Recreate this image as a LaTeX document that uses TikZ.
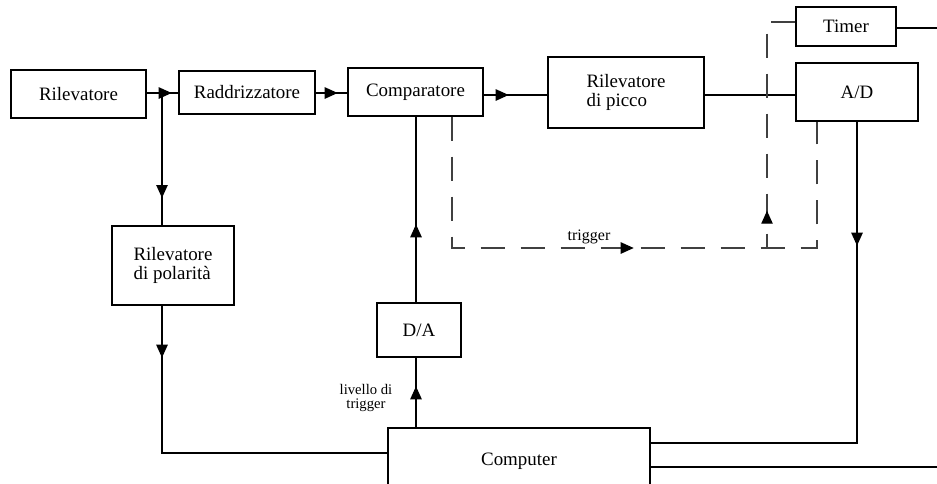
\documentclass[tikz,border=0pt]{standalone}
\usepackage{fontspec}
\setmainfont{Liberation Serif}
\usetikzlibrary{arrows.meta,decorations.markings}
\newcommand{\mainfs}{\fontsize{14.2}{14}\selectfont}
\newcommand{\smallfs}{\fontsize{11}{10}\selectfont}
\newcommand{\trigfs}{\fontsize{12}{12}\selectfont}
\begin{document}
\begin{tikzpicture}[x=0.75pt,y=-0.75pt,
  box/.style={draw, line width=1.1pt, inner sep=0pt, font=\mainfs, align=center},
  wire/.style={line width=1.1pt},
  dwire/.style={line width=1.1pt, black!75, dash pattern=on 18pt off 12pt},
  arr/.style={postaction={decorate}, decoration={markings, mark=at position #1 with {\arrow[black,solid]{Triangle[length=9.75pt,width=8.5pt]}}}},
  arrrev/.style={postaction={decorate}, decoration={markings, mark=at position #1 with {\arrowreversed[black,solid]{Triangle[length=9.75pt,width=8.5pt]}}}}
]
\useasboundingbox (0,0) rectangle (937,483);
\clip (0,0) rectangle (937,483);

\node[box, minimum width=101.25pt, minimum height=36pt] (ril) at (78.5,94) {Rilevatore};
\node[box, minimum width=102pt, minimum height=32.25pt] (rad) at (247,92.5) {Raddrizzatore};
\node[box, minimum width=101.25pt, minimum height=36pt] (cmp) at (415.5,92) {Comparatore};
\node[box, minimum width=117pt, minimum height=53.25pt, align=left] (picco) at (626,92.5) {Rilevatore\\di picco};
\node[box, minimum width=91.5pt, minimum height=43.5pt] (ad) at (857,92) {A/D};
\node[box, minimum width=75pt, minimum height=29.25pt] (timer) at (846,26.5) {Timer};
\node[box, minimum width=91.5pt, minimum height=59.25pt, align=left] (pol) at (173,265.5) {Rilevatore\\di polarità};
\node[box, minimum width=63pt, minimum height=40.5pt] (da) at (419,330) {D/A};
\node[box, minimum width=196.5pt, minimum height=49.5pt] (pc) at (519,461) {Computer};

\node[font=\trigfs] (trg) at (589,237) {trigger};
\node[font=\smallfs, align=center] (liv) at (366,398) {livello di\\trigger};

\coordinate (j1) at (162,93);
\coordinate (j2) at (162,453);
\coordinate (j3) at (857,443);
\coordinate (y95) at (0,95);
\coordinate (xda) at (416,0);
\coordinate (xtr) at (452,248);
\coordinate (xtr2) at (817,248);
\coordinate (xtb) at (767,248);
\coordinate (xtt) at (767,22);
\coordinate (tout) at (937,28);
\coordinate (pout) at (937,467);

\draw[wire,arr=18.75pt] (ril.east |- j1) -- (rad.west |- j1);
\draw[wire,arr=16.5pt] (rad.east |- j1) -- (cmp.west |- j1);
\draw[wire,arr=18.75pt] (cmp.east |- y95) -- (picco.west |- y95);
\draw[wire] (picco.east |- y95) -- (ad.west |- y95);
\draw[wire,arr=78.75pt] (j1) -- (j1 |- pol.north);
\draw[wire,arr=39pt] (j1 |- pol.south) -- (j2) -- (pc.west |- j2);
\draw[wire,arr=58.5pt] (xda |- da.north) -- (xda |- cmp.south);
\draw[wire,arr=30.75pt] (xda |- pc.north) -- (xda |- da.south);
\draw[wire,arr=93pt] (j3 |- ad.south) -- (j3) -- (pc.east |- j3);
\draw[wire] (timer.east |- tout) -- (tout);
\draw[wire] (pc.east |- pout) -- (pout);

\draw[dwire,arr=234.75pt] (xtr |- cmp.south) -- (xtr) -- (xtr2) -- (xtr2 |- ad.south);
\draw[dwire,arrrev=162.75pt] (timer.west |- xtt) -- (xtt) -- (xtb);
\end{tikzpicture}
\end{document}
